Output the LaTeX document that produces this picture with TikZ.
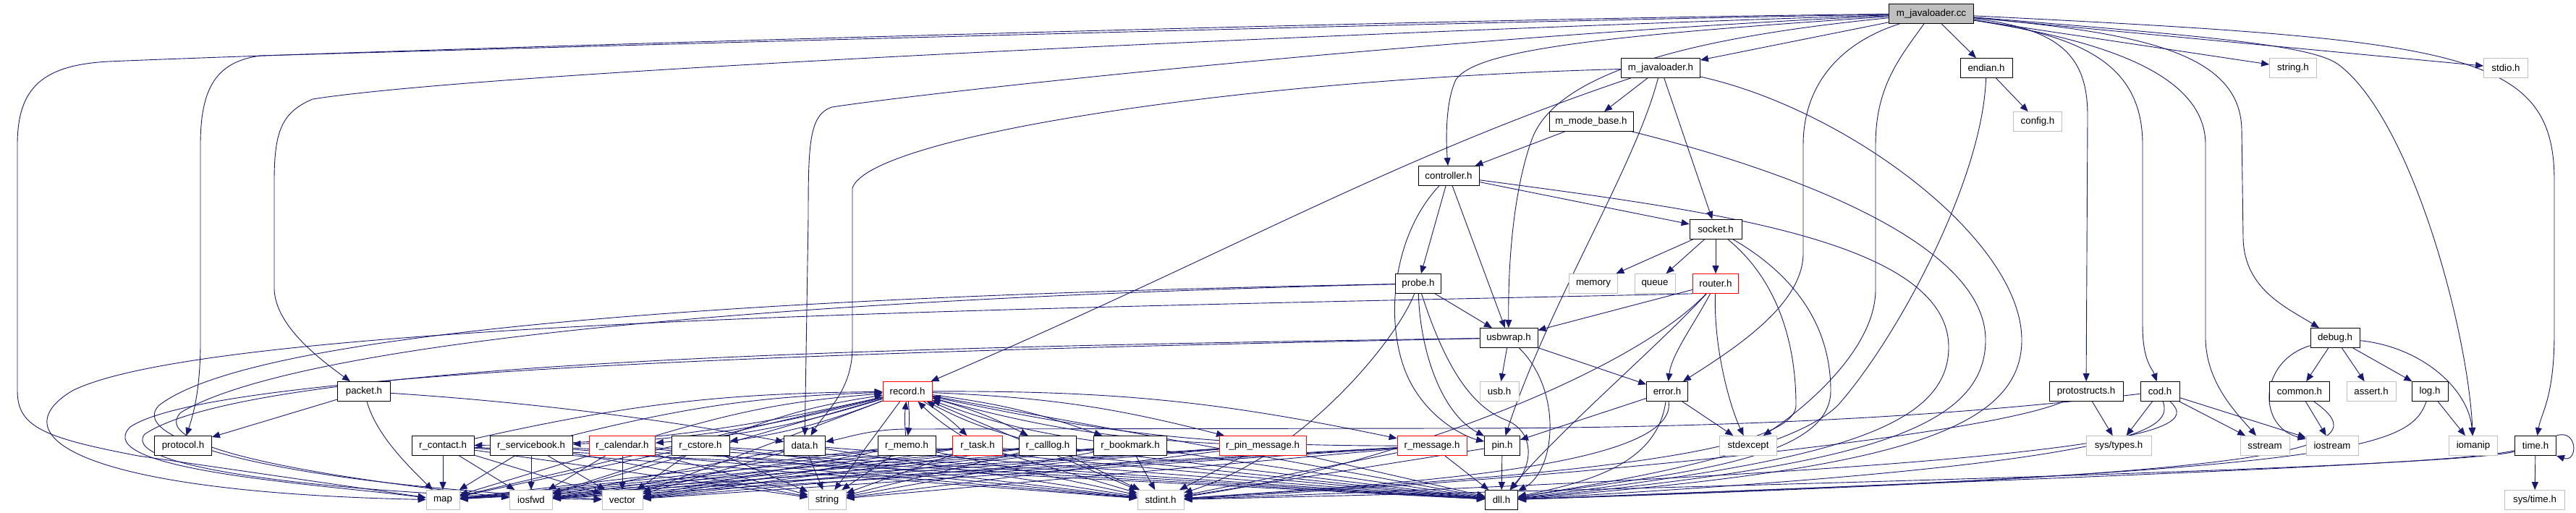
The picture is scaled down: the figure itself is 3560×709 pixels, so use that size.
\documentclass[tikz,border=0pt]{standalone}
\usepackage{fontspec}
\setmainfont{Liberation Sans}
\usetikzlibrary{arrows.meta,backgrounds}
\definecolor{edgeblue}{HTML}{191970}
\definecolor{graybox}{HTML}{BFBFBF}
\newcommand\filefont{\fontsize{13.3}{16}\selectfont}

\begin{document}
\begin{tikzpicture}[x=1pt, y=-1pt,
    file/.style={draw=black, fill=white, line width=0.8pt, minimum height=27pt, inner sep=0pt, font=\filefont},
    sysfile/.style={file, draw=graybox},
    cutfile/.style={file, draw=red},
    rootfile/.style={file, fill=graybox},
    dep/.style={draw=edgeblue, line width=0.9pt, -{Triangle[length=11pt,width=9pt]}}]
    \useasboundingbox (0,0) rectangle (3560,709);

    % Fila 0: archivo raiz
    \node[rootfile, minimum width=117pt] (cc) at (2669,19) {m\_javaloader.cc};

    % Fila 1
    \node[file, minimum width=109pt] (jh) at (2295,94) {m\_javaloader.h};
    \node[file, minimum width=72pt] (endian) at (2745,94) {endian.h};
    \node[sysfile, minimum width=65pt] (stringh) at (3169,94) {string.h};
    \node[sysfile, minimum width=61pt] (stdio) at (3463,94) {stdio.h};

    % Filas 2 a 6
    \node[file, minimum width=116pt] (modebase) at (2199,168) {m\_mode\_base.h};
    \node[sysfile, minimum width=67pt] (config) at (2816,168) {config.h};
    \node[file, minimum width=84pt] (controller) at (2002,243) {controller.h};
    \node[file, minimum width=72pt] (socket) at (2371,317) {socket.h};
    \node[file, minimum width=63pt] (probe) at (1960,392) {probe.h};
    \node[sysfile, minimum width=67pt] (memory) at (2202,392) {memory};
    \node[sysfile, minimum width=56pt] (queue) at (2287,392) {queue};
    \node[cutfile, minimum width=63pt] (router) at (2371,392) {router.h};
    \node[file, minimum width=80pt] (usbwrap) at (2085,467) {usbwrap.h};
    \node[file, minimum width=68pt] (debug) at (3227,467) {debug.h};

    % Fila 7
    \node[file, minimum width=73pt] (packet) at (503,541) {packet.h};
    \node[cutfile, minimum width=68pt] (record) at (1254,541) {record.h};
    \node[sysfile, minimum width=54pt] (usbh) at (2072,541) {usb.h};
    \node[file, minimum width=57pt] (error) at (2304,541) {error.h};
    \node[file, minimum width=102pt] (protostructs) at (2883,541) {protostructs.h};
    \node[file, minimum width=54pt] (cod) at (2985,541) {cod.h};
    \node[file, minimum width=83pt] (common) at (3178,541) {common.h};
    \node[sysfile, minimum width=68pt] (assert) at (3277,541) {assert.h};
    \node[file, minimum width=50pt] (log) at (3358,541) {log.h};

    % Fila 8
    \node[file, minimum width=79pt] (protocol) at (253,616) {protocol.h};
    \node[file, minimum width=86pt] (rcontact) at (612,616) {r\_contact.h};
    \node[file, minimum width=114pt] (rservicebook) at (734,616) {r\_servicebook.h};
    \node[cutfile, minimum width=91pt] (rcalendar) at (860,616) {r\_calendar.h};
    \node[file, minimum width=80pt] (rcstore) at (968,616) {r\_cstore.h};
    \node[file, minimum width=57pt] (data) at (1112,616) {data.h};
    \node[file, minimum width=80pt] (rmemo) at (1253,616) {r\_memo.h};
    \node[cutfile, minimum width=69pt] (rtask) at (1351,616) {r\_task.h};
    \node[file, minimum width=79pt] (rcalllog) at (1448,616) {r\_calllog.h};
    \node[file, minimum width=101pt] (rbookmark) at (1562,616) {r\_bookmark.h};
    \node[cutfile, minimum width=120pt] (rpinmsg) at (1745,616) {r\_pin\_message.h};
    \node[cutfile, minimum width=96pt] (rmessage) at (1979,616) {r\_message.h};
    \node[file, minimum width=49pt] (pin) at (2076,616) {pin.h};
    \node[sysfile, minimum width=79pt] (stdexcept) at (2416,616) {stdexcept};
    \node[sysfile, minimum width=90pt] (systypes) at (2928,616) {sys/types.h};
    \node[sysfile, minimum width=68pt] (sstream) at (3130,616) {sstream};
    \node[sysfile, minimum width=72pt] (iostream) at (3223,616) {iostream};
    \node[sysfile, minimum width=67pt] (iomanip) at (3418,616) {iomanip};
    \node[file, minimum width=57pt] (time) at (3504,616) {time.h};

    % Fila 9
    \node[sysfile, minimum width=46pt] (map) at (612,691) {map};
    \node[sysfile, minimum width=59pt] (iosfwd) at (734,691) {iosfwd};
    \node[sysfile, minimum width=56pt] (vector) at (860,691) {vector};
    \node[sysfile, minimum width=52pt] (string) at (1143,691) {string};
    \node[sysfile, minimum width=64pt] (stdint) at (1604,691) {stdint.h};
    \node[file, minimum width=45pt] (dll) at (2075,691) {dll.h};
    \node[sysfile, minimum width=83pt] (systime) at (3503,691) {sys/time.h};

    \begin{pgfonlayer}{background}
    \fill[white] (0,0) rectangle (3560,709);

    % Desde m_javaloader.cc
    \draw[dep] (cc) -- (jh);
    \draw[dep] (cc) -- (endian);
    \draw[dep] (cc) -- (stringh);
    \draw[dep] (cc) -- (stdio);
    \draw[dep] (cc) .. controls (3400,55) and (3530,70) .. (3530,250) -- (3530,460) .. controls (3530,550) and (3512,570) .. (time);
    \draw[dep] (cc) .. controls (2950,45) and (3097,70) .. (3098,180) -- (3100,330) .. controls (3102,400) and (3160,425) .. (debug);
    \draw[dep] (cc) .. controls (2900,55) and (3048,100) .. (3048,200) -- (3048,470) .. controls (3050,530) and (3090,570) .. (sstream);
    \draw[dep] (cc) .. controls (3050,50) and (3190,62) .. (3230,88) .. controls (3330,160) and (3410,450) .. (iomanip);
    \draw[dep] (cc) .. controls (2880,50) and (2961,90) .. (2961,200) -- (2961,450) .. controls (2961,500) and (2975,510) .. (cod);
    \draw[dep] (cc) .. controls (2850,40) and (2885,80) .. (2885,160) -- (protostructs);
    \draw[dep] (cc) .. controls (2625,80) and (2592,120) .. (2592,200) -- (2592,400) .. controls (2592,480) and (2500,560) .. (stdexcept);
    \draw[dep] (cc) .. controls (2540,60) and (2492,120) .. (2492,200) -- (2492,350) .. controls (2492,420) and (2400,480) .. (error);
    \draw[dep] (cc) .. controls (2300,55) and (2150,110) .. (2118,190) .. controls (2092,260) and (2084,360) .. (usbwrap);
    \draw[dep] (cc) .. controls (2200,50) and (2040,70) .. (2012,110) .. controls (1998,140) and (1998,190) .. (controller);
    \draw[dep] (cc) .. controls (2000,50) and (1300,125) .. (1150,148) .. controls (1118,158) and (1117,200) .. (1117,300) -- (data);
    \draw[dep] (cc) .. controls (2000,30) and (600,70) .. (360,77) .. controls (300,85) and (277,120) .. (277,200) -- (277,480) .. controls (276,540) and (268,570) .. (protocol);
    \draw[dep] (cc) .. controls (2000,40) and (700,95) .. (432,137) .. controls (390,155) and (379,180) .. (379,250) -- (379,400) .. controls (381,450) and (440,495) .. (packet);
    \draw[dep] (cc) .. controls (2000,25) and (500,70) .. (150,85) .. controls (60,90) and (24,120) .. (24,200) -- (24,540) .. controls (24,590) and (60,605) .. (191,630) -- (map);

    % m_javaloader.h
    \draw[dep] (jh) -- (modebase);
    \draw[dep] (jh) -- (socket);
    \draw[dep] (jh) .. controls (1920,220) and (1700,350) .. (record);
    \draw[dep] (jh) .. controls (2260,230) and (2140,420) .. (pin);
    \draw[dep] (jh) .. controls (2550,150) and (2794,330) .. (2794,470) .. controls (2794,600) and (2600,650) .. (dll);
    \draw[dep] (jh) .. controls (1700,110) and (1200,190) .. (1178,260) -- (1178,480) .. controls (1178,540) and (1140,570) .. (data);

    % m_mode_base.h y controller.h
    \draw[dep] (modebase) -- (controller);
    \draw[dep] (modebase) .. controls (2450,230) and (2744,330) .. (2744,470) .. controls (2744,600) and (2550,645) .. (dll);
    \draw[dep] (controller) -- (probe);
    \draw[dep] (controller) -- (usbwrap);
    \draw[dep] (controller) -- (socket);
    \draw[dep] (controller) .. controls (1920,330) and (1912,460) .. (1950,530) .. controls (1980,585) and (2030,605) .. (pin);
    \draw[dep] (controller) .. controls (2350,290) and (2693,330) .. (2693,480) .. controls (2693,600) and (2500,640) .. (dll);

    % socket.h y router.h
    \draw[dep] (socket) -- (memory);
    \draw[dep] (socket) -- (queue);
    \draw[dep] (socket) -- (router);
    \draw[dep] (socket) .. controls (2480,380) and (2530,450) .. (2530,540) .. controls (2530,640) and (2300,655) .. (dll);
    \draw[dep] (socket) .. controls (2460,390) and (2482,480) .. (2482,560) .. controls (2482,640) and (2000,665) .. (stdint);
    \draw[dep] (router) -- (usbwrap);
    \draw[dep] (router) .. controls (2340,450) and (2310,490) .. (error);
    \draw[dep] (router) .. controls (2368,480) and (2390,560) .. (stdexcept);
    \draw[dep] (router) .. controls (2300,470) and (2150,600) .. (dll);
    \draw[dep] (router) .. controls (2250,520) and (1900,650) .. (stdint);
    \draw[dep] (router.south west) .. controls (1500,425) and (300,440) .. (100,540) .. controls (0,600) and (100,680) .. (map);

    % probe.h y usbwrap.h
    \draw[dep] (probe) -- (usbwrap);
    \draw[dep] (probe) .. controls (1962,480) and (1990,570) .. (pin);
    \draw[dep] (probe) .. controls (1995,500) and (2030,560) .. (2080,580) .. controls (2120,595) and (2120,640) .. (dll);
    \draw[dep] (probe) .. controls (1930,470) and (1800,630) .. (stdint);
    \draw[dep] (probe) .. controls (1000,410) and (350,460) .. (220,560) .. controls (170,610) and (400,670) .. (vector);
    \draw[dep] (probe) .. controls (1000,415) and (400,480) .. (250,570) .. controls (200,620) and (450,660) .. (iosfwd);
    \draw[dep] (usbwrap) -- (usbh);
    \draw[dep] (usbwrap) -- (error);
    \draw[dep] (usbwrap) .. controls (2160,540) and (2150,650) .. (dll);
    \draw[dep] (usbwrap) .. controls (1200,480) and (350,500) .. (200,600) .. controls (160,650) and (500,685) .. (vector);
    \draw[dep] (usbwrap) .. controls (1200,485) and (300,510) .. (180,590) .. controls (120,650) and (450,670) .. (map);

    % error.h y pin.h
    \draw[dep] (error) -- (stdexcept);
    \draw[dep] (error) -- (pin);
    \draw[dep] (error) .. controls (2290,640) and (2200,665) .. (dll);
    \draw[dep] (error) .. controls (2320,650) and (1900,670) .. (stdint);
    \draw[dep] (pin) -- (dll);
    \draw[dep] (pin) -- (stdint);

    % endian.h, protostructs.h y cod.h
    \draw[dep] (endian) -- (config);
    \draw[dep] (endian) .. controls (2740,250) and (2620,470) .. (2540,560) .. controls (2470,630) and (2200,670) .. (dll);
    \draw[dep] (protostructs) -- (systypes);
    \draw[dep] (protostructs) .. controls (2750,600) and (2200,660) .. (stdint);
    \draw[dep] (cod) -- (systypes);
    \draw[dep] (cod) -- (sstream);
    \draw[dep] (cod) -- (iostream);
    \draw[dep] (cod) .. controls (3000,590) and (2990,640) .. (dll);
    \draw[dep] (cod) .. controls (3035,590) and (3030,640) .. (stdint);
    \draw[dep] (cod) .. controls (2700,575) and (2400,592) .. (2000,592) -- (1250,593) .. controls (1200,594) and (1170,605) .. (data);

    % debug.h
    \draw[dep] (debug) -- (common);
    \draw[dep] (debug) -- (assert);
    \draw[dep] (debug) -- (log);
    \draw[dep] (debug) .. controls (3350,480) and (3412,540) .. (iomanip);
    \draw[dep] (debug) .. controls (3120,500) and (3120,590) .. (iostream);
    \draw[dep] (common) -- (iostream);
    \draw[dep] (common) .. controls (3290,620) and (3200,655) .. (dll);
    \draw[dep] (log) -- (iomanip);
    \draw[dep] (log) .. controls (3330,620) and (3250,650) .. (dll);

    % time.h
    \draw[dep] (time) -- (systime);
    \draw[dep] (time.north east) .. controls +(30,-10) and +(30,10) .. (time.south east);
    \draw[dep] (time) .. controls (3400,640) and (3000,655) .. (dll);
    \draw[dep] (time) .. controls (3400,645) and (2500,670) .. (stdint);

    % packet.h
    \draw[dep] (packet) -- (protocol);
    \draw[dep] (packet) .. controls (800,560) and (1000,595) .. (data);
    \draw[dep] (packet) .. controls (520,600) and (560,640) .. (map);

    % record.h y los registros
    \foreach \rec in {rcontact, rservicebook, rcalendar, rcstore, rmemo, rtask, rcalllog, rbookmark, rpinmsg, rmessage} {
        \draw[dep] (record) to[bend left=6] (\rec);
        \draw[dep] (\rec) to[bend left=6] (record);
    }
    \foreach \src in {record, rcontact, rservicebook, rcalendar, rcstore, rmemo, rtask, rcalllog, rbookmark, rpinmsg, rmessage}
        \foreach \sys in {map, iosfwd, vector, string, stdint, dll}
            \draw[dep] (\src) -- (\sys);
    \foreach \sys in {iosfwd, vector, string, stdint, dll}
        \draw[dep] (data) -- (\sys);
    \end{pgfonlayer}
\end{tikzpicture}
\end{document}
